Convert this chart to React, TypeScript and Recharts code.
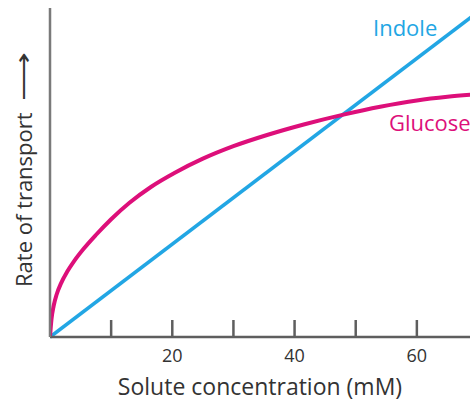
import { LineChart, Line, XAxis, YAxis, Customized } from "recharts";

const xTicks = [10, 20, 30, 40, 50, 60];
const labelledTicks = [20, 40, 60];

// solute concentration (mM) / relative rate
const indoleConc = [0, 70];
const indoleRate = [0, 98.8];

const glucoseConc = [0, 0.25, 0.6, 1.1, 1.8, 2.8, 4, 5.5, 7.5, 10, 13, 16.5, 20.5, 25, 30, 35.5, 41.5, 48, 54, 60, 65, 70];
const glucoseRate = [0, 5.5, 9.5, 13, 16.3, 19.8, 23.2, 26.8, 31, 35.8, 40.8, 45.6, 50, 54.2, 58, 61.4, 64.6, 67.6, 70, 71.9, 73, 73.8];

const indoleData = indoleConc.map((x, i) => ({ x, y: indoleRate[i] }));
const glucoseData = glucoseConc.map((x, i) => ({ x, y: glucoseRate[i] }));

const FONT = "'Open Sans', sans-serif";
const BLUE = "#22a6e4";
const MAGENTA = "#dd0f7a";
const AXIS = "#5e5e5e";

function XTick(props: any) {
  const { x, y, payload } = props;
  return (
    <g>
      <line x1={x} x2={x} y1={y - 17} y2={y} stroke={AXIS} strokeWidth={2.5} />
      {labelledTicks.includes(payload.value) && (
        <text x={x} y={y + 25} textAnchor="middle" fill="#333" fontSize={18} fontFamily={FONT}>
          {payload.value}
        </text>
      )}
    </g>
  );
}

function Labels() {
  return (
    <g fontFamily={FONT}>
      <text x={373} y={36} fill={BLUE} fontSize={22}>Indole</text>
      <text x={389} y={131} fill={MAGENTA} fontSize={22}>Glucose</text>
      <text x={260} y={395} textAnchor="middle" fill="#333" fontSize={23}>Solute concentration (mM)</text>
      <text x={32} y={287} transform="rotate(-90 32 287)" fill="#333" fontSize={22}>Rate of transport</text>
      <text transform="translate(31 101) rotate(-90) scale(1.55 1)" fill="#333" fontSize={22}>⟶</text>
    </g>
  );
}

export default function App() {
  return (
    <div style={{ position: "absolute", left: 0, top: 0, width: 470, height: 402, overflow: "hidden", background: "#fff" }}>
      <LineChart width={478} height={402} margin={{ top: 8, right: 0, bottom: 0, left: 0 }}>
        <XAxis
          type="number"
          dataKey="x"
          domain={[0, 70]}
          ticks={xTicks}
          height={65}
          tickSize={0}
          tickMargin={0}
          tickLine={false}
          tick={<XTick />}
          axisLine={{ stroke: AXIS, strokeWidth: 2.5 }}
          allowDataOverflow
        />
        <YAxis
          type="number"
          domain={[0, 100]}
          width={50}
          tick={false}
          tickLine={false}
          axisLine={{ stroke: "#7a7a7a", strokeWidth: 2.5 }}
        />
        <Line data={indoleData} dataKey="y" type="linear" stroke={BLUE} strokeWidth={3.5} dot={false} isAnimationActive={false} />
        <Line data={glucoseData} dataKey="y" type="monotone" stroke={MAGENTA} strokeWidth={4} dot={false} isAnimationActive={false} />
        <Customized component={Labels} />
      </LineChart>
    </div>
  );
}
